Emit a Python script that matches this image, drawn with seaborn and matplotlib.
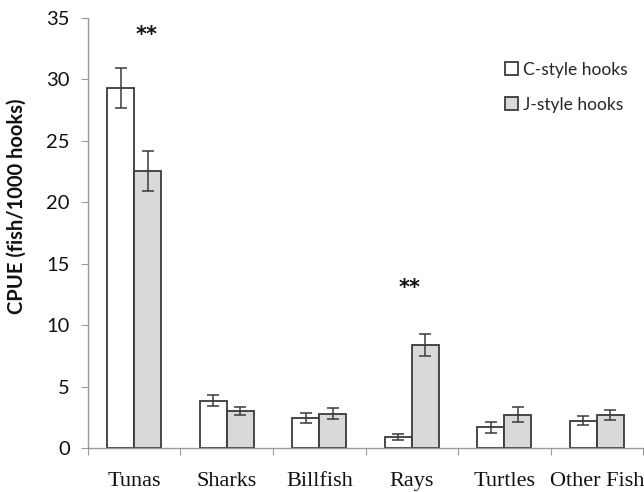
import numpy as np
import pandas as pd
import matplotlib
matplotlib.use("Agg")
import matplotlib.pyplot as plt
import seaborn as sns

# CPUE by taxon and hook type
groups = ["Tunas", "Sharks", "Billfish", "Rays", "Turtles", "Other Fish"]
hooks = ["C-style hooks", "J-style hooks"]
c_cpue = [29.3, 3.85, 2.45, 0.9, 1.68, 2.22]
j_cpue = [22.55, 2.98, 2.8, 8.42, 2.71, 2.71]
c_err = [1.6, 0.45, 0.42, 0.25, 0.47, 0.38]
j_err = [1.65, 0.33, 0.45, 0.9, 0.6, 0.4]
signif_groups = ["Tunas", "Rays"]
signif_y = [33.6, 13.0]

df = pd.DataFrame({
    "Group": groups * 2,
    "Hook": [hooks[0]] * len(groups) + [hooks[1]] * len(groups),
    "CPUE": c_cpue + j_cpue,
    "Err": c_err + j_err,
})

sns.set_style("white")
plt.rcParams["font.family"] = ["Lato", "DejaVu Sans"]

fig = plt.figure(figsize=(6.44, 4.92), dpi=100)
ax = fig.add_axes([0.1366, 0.0894, 0.862, 0.874])

sns.barplot(data=df, x="Group", y="CPUE", hue="Hook", order=groups, hue_order=hooks,
            palette=["white", "#d9d9d9"], edgecolor="#3a3a3a", linewidth=1.3,
            width=0.58, errorbar=None, ax=ax)

# error bars on each bar centre
for hook, bars in zip(hooks, ax.containers):
    sub = df[df["Hook"] == hook].set_index("Group").loc[groups]
    xs = [b.get_x() + b.get_width() / 2 for b in bars]
    ax.errorbar(xs, sub["CPUE"], yerr=sub["Err"], fmt="none", ecolor="#3a3a3a",
                elinewidth=1.1, capsize=4, capthick=1.1, zorder=5)

# significance stars
for g, y in zip(signif_groups, signif_y):
    i = groups.index(g)
    dx = 0.13 if g == "Tunas" else -0.02
    ax.text(i + dx, y, "**", ha="center", va="center", fontsize=15,
            fontweight="bold", family="DejaVu Sans", color="#111")

ax.set_xlim(-0.5, len(groups) - 0.5)
ax.set_ylim(0, 35)
ax.set_yticks(np.arange(0, 36, 5))
ax.tick_params(axis="y", labelsize=14.5, length=5, color="#999", direction="out",
               left=True, labelcolor="#111", pad=8)

# tick marks between categories, labels at centres
ax.set_xticks(np.arange(-0.5, len(groups), 1.0))
ax.set_xticklabels([])
ax.set_xticks(np.arange(len(groups)), minor=True)
ax.set_xticklabels(groups, minor=True, family="Liberation Serif", fontsize=16,
                   color="#111")
ax.tick_params(axis="x", which="major", length=5, color="#999", direction="out",
               bottom=True)
ax.tick_params(axis="x", which="minor", length=0, pad=17)

ax.set_xlabel("")
ax.set_ylabel("CPUE (fish/1000 hooks)", fontsize=14.5, fontweight="bold",
              color="#111", va="center")
ax.yaxis.set_label_coords(-0.128, 0.563)

sns.despine(ax=ax)
for s in ["left", "bottom"]:
    ax.spines[s].set_color("#999")
    ax.spines[s].set_linewidth(1.0)

ax.legend(loc="upper left", bbox_to_anchor=(0.738, 0.915), frameon=False,
          fontsize=12.5, handlelength=0.75, handleheight=0.75, handletextpad=0.3,
          labelspacing=1.1, borderaxespad=0)

fig.savefig("out.png", dpi=100)
